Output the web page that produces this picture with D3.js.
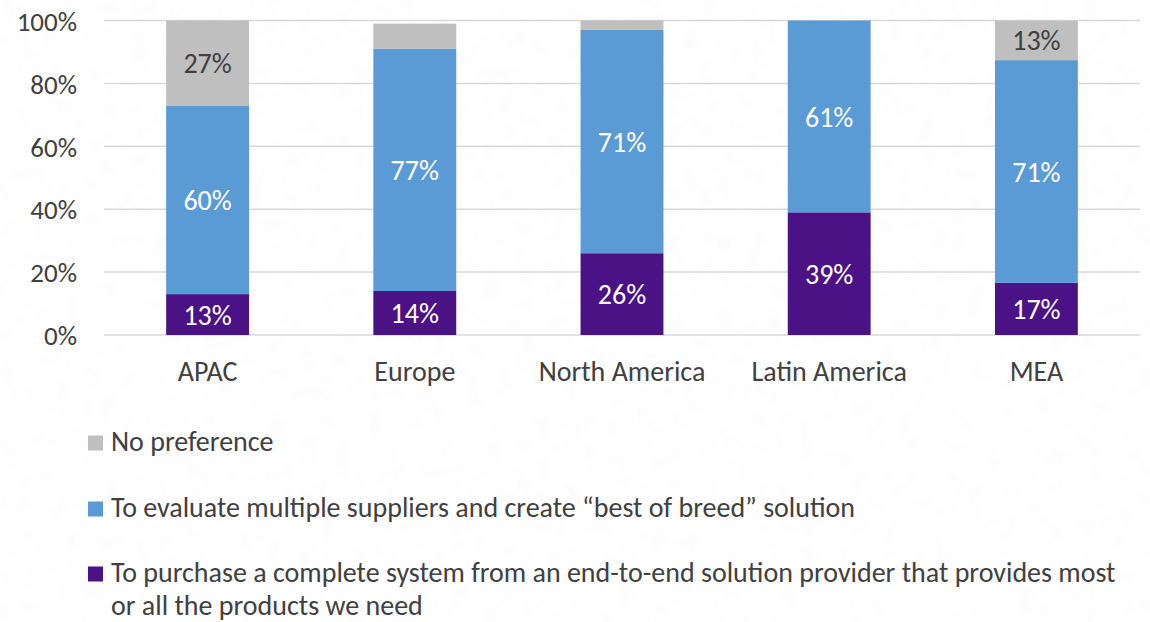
<!DOCTYPE html>
<html>
<head>
<meta charset="utf-8">
<script src="https://cdn.jsdelivr.net/npm/d3@7"></script>
<style>
  html, body { margin: 0; padding: 0; background: #ffffff; }
  svg { display: block; }
  text { font-family: Carlito, "Open Sans", sans-serif; }
</style>
</head>
<body>
<svg id="chart" width="1150" height="622"></svg>
<script>
// ---- Data ----
const categories = ["APAC", "Europe", "North America", "Latin America", "MEA"];
const endToEnd    = [13, 14, 26, 39, 16.6];   // purple
const bestOfBreed = [60, 77, 71, 61, 70.8];   // blue
const noPreference = [27, 8, 3, 0, 12.6];     // gray
const yTicks = [0, 20, 40, 60, 80, 100];
const seriesNames = [
  "No preference",
  "To evaluate multiple suppliers and create \u201cbest of breed\u201d solution",
  "To purchase a complete system from an end-to-end solution provider that provides most|or all the products we need"
];

// ---- Styles ----
const colors = { purple: "#4B1286", blue: "#5B9BD5", gray: "#BFBFBF" };
const textColor = "#404040";

const svg = d3.select("#chart");

// subtle paper texture in background
const defs = svg.append("defs");
const filt = defs.append("filter").attr("id", "paper").attr("x", 0).attr("y", 0).attr("width", "100%").attr("height", "100%");
filt.append("feTurbulence").attr("type", "fractalNoise").attr("baseFrequency", 0.06).attr("numOctaves", 3).attr("seed", 4);
filt.append("feColorMatrix").attr("type", "matrix")
  .attr("values", "0 0 0 0 0.55  0 0 0 0 0.55  0 0 0 0 0.55  0 0 0 -0.9 0.5");
svg.append("rect").attr("width", 1150).attr("height", 622).attr("fill", "#ffffff");
svg.append("rect").attr("width", 1150).attr("height", 622).attr("filter", "url(#paper)").attr("opacity", 0.12);

const x = d3.scaleBand().domain(categories).range([104, 1140]).paddingInner(0.6).paddingOuter(0.3);
const y = d3.scaleLinear().domain([0, 100]).range([335, 20.5]);

// gridlines
svg.append("g").selectAll("line").data(yTicks).join("line")
  .attr("x1", 104).attr("x2", 1140)
  .attr("y1", d => y(d)).attr("y2", d => y(d))
  .attr("stroke", "#D9D9D9").attr("stroke-width", 1.5);

// y axis labels
const yAxis = d3.axisLeft(y).tickValues(yTicks).tickFormat(d => d + "%").tickSize(0).tickPadding(27);
const gy = svg.append("g").attr("transform", "translate(104,0)").call(yAxis);
gy.select(".domain").remove();
gy.selectAll("text").attr("fill", textColor).style("font-size", "27px")
  .style("font-family", 'Carlito, "Open Sans", sans-serif').attr("dy", "0.36em");

// x axis labels
const xAxis = d3.axisBottom(x).tickSize(0).tickPadding(26);
const gx = svg.append("g").attr("transform", "translate(0,335)").call(xAxis);
gx.select(".domain").remove();
gx.selectAll("text").attr("fill", textColor).style("font-size", "28px")
  .style("font-family", 'Carlito, "Open Sans", sans-serif');

// stacked data
const keys = ["endToEnd", "bestOfBreed", "noPreference"];
const rows = categories.map((c, i) => ({
  cat: c, endToEnd: endToEnd[i], bestOfBreed: bestOfBreed[i], noPreference: noPreference[i]
}));
const stack = d3.stack().keys(keys)(rows);
const fill = { endToEnd: colors.purple, bestOfBreed: colors.blue, noPreference: colors.gray };
const labelFill = { endToEnd: "#ffffff", bestOfBreed: "#ffffff", noPreference: textColor };

const layers = svg.append("g").selectAll("g").data(stack).join("g")
  .attr("fill", d => fill[d.key]);

layers.selectAll("rect").data(d => d).join("rect")
  .attr("x", d => x(d.data.cat))
  .attr("width", x.bandwidth())
  .attr("y", d => y(d[1]))
  .attr("height", d => Math.max(0, y(d[0]) - y(d[1])));

// value labels
stack.forEach(layer => {
  svg.append("g").selectAll("text").data(layer.filter(d => d[1] - d[0] >= 10)).join("text")
    .attr("x", d => x(d.data.cat) + x.bandwidth() / 2)
    .attr("y", d => (y(d[0]) + y(d[1])) / 2)
    .attr("dy", "0.36em")
    .attr("text-anchor", "middle")
    .attr("fill", labelFill[layer.key])
    .style("font-size", "28px")
    .text(d => Math.round(d[1] - d[0]) + "%");
});

// legend
const legendItems = [
  { name: seriesNames[0], color: colors.gray, y: 451 },
  { name: seriesNames[1], color: colors.blue, y: 517 },
  { name: seriesNames[2], color: colors.purple, y: 582 }
];
const lg = svg.append("g");
legendItems.forEach(item => {
  lg.append("rect").attr("x", 88).attr("y", item.y - 15.5).attr("width", 15).attr("height", 15)
    .attr("fill", item.color);
  const t = lg.append("text").attr("x", 111).attr("y", item.y).attr("fill", textColor)
    .style("font-size", "28px");
  item.name.split("|").forEach((line, i) => {
    t.append("tspan").attr("x", 111).attr("dy", i === 0 ? 0 : 33).text(line);
  });
});
</script>
</body>
</html>
